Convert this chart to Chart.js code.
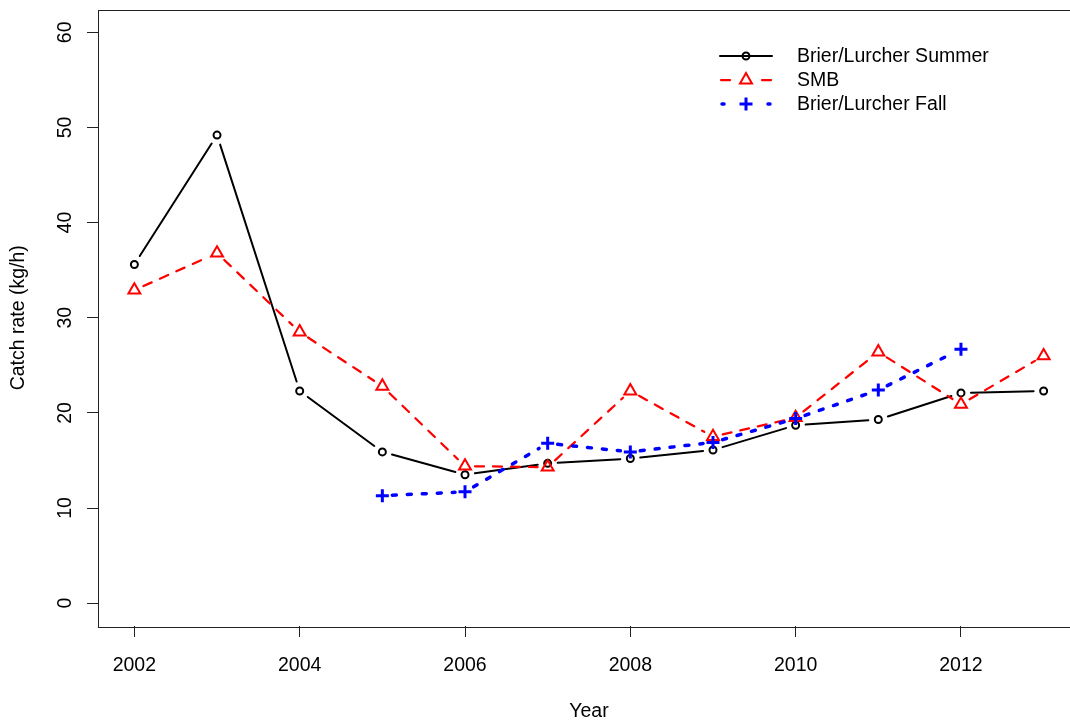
<!DOCTYPE html>
<html><head><meta charset="utf-8">
<script src="https://cdn.jsdelivr.net/npm/chart.js@4/dist/chart.umd.min.js"></script>
<style>html,body{margin:0;padding:0;overflow:hidden;background:#fff}canvas{display:block}</style>
</head><body>
<canvas id="c" width="1090" height="724"></canvas>
<script>
const years = [2002,2003,2004,2005,2006,2007,2008,2009,2010,2011,2012,2013];
const summer = [35.6,49.2,22.3,15.9,13.5,14.7,15.2,16.1,18.7,19.3,22.1,22.3];
const smb = [32.9,36.8,28.5,22.8,14.4,14.3,22.3,17.5,19.5,26.4,20.9,26.0];
const fall = [null,null,null,11.3,11.7,16.8,15.9,16.9,19.4,22.4,26.7,null];
const xTicks = [2002,2004,2006,2008,2010,2012];
const yTicks = [0,10,20,30,40,50,60];
const seriesNames = ['Brier/Lurcher Summer','SMB','Brier/Lurcher Fall'];

const FONT = 'Liberation Sans, Arial, sans-serif';
const toXY = arr => years.map((y,i)=>({x:y,y:arr[i]}));

const boxPlugin = {
  id:'box',
  beforeDatasetsDraw(chart){
    const {ctx, chartArea:a} = chart;
    ctx.save();
    ctx.strokeStyle = '#222'; ctx.lineWidth = 1;
    ctx.strokeRect(Math.round(a.left)+0.5, Math.round(a.top)+0.5, Math.round(a.right-a.left), Math.round(a.bottom-a.top));
    ctx.restore();
  }
};

const GAP = 10;
const gapLines = {
  id:'gapLines',
  beforeDatasetsDraw(chart){
    const ctx = chart.ctx, a = chart.chartArea;
    ctx.save();
    ctx.beginPath(); ctx.rect(a.left,a.top,a.right-a.left,a.bottom-a.top); ctx.clip();
    const idx = chart.data.datasets.map((d,i)=>i).reverse();
    idx.forEach(i=>{
      const ds = chart.data.datasets[i];
      const pts = chart.getDatasetMeta(i).data;
      ctx.strokeStyle = ds.lineColor; ctx.lineWidth = ds.lineW;
      ctx.setLineDash(ds.lineDash); ctx.lineCap = 'round';
      for (let k=0;k<pts.length-1;k++){
        if (ds.data[k].y==null || ds.data[k+1].y==null) continue;
        const p=pts[k], q=pts[k+1];
        const dx=q.x-p.x, dy=q.y-p.y, len=Math.hypot(dx,dy);
        if (len<=2*GAP) continue;
        const ux=dx/len, uy=dy/len;
        ctx.beginPath();
        ctx.moveTo(p.x+ux*GAP,p.y+uy*GAP);
        ctx.lineTo(q.x-ux*GAP,q.y-uy*GAP);
        ctx.stroke();
      }
    });
    ctx.restore();
  }
};

const legendPlugin = {
  id:'rlegend',
  afterDraw(chart){
    const ctx = chart.ctx;
    ctx.save();
    const rows = [56,80,104];
    const x0=720, x1=772, xc=746, tx=797;
    ctx.lineCap='round'; ctx.setLineDash([]);
    ctx.strokeStyle='#000'; ctx.lineWidth=2;
    ctx.beginPath(); ctx.moveTo(x0,rows[0]); ctx.lineTo(x1,rows[0]); ctx.stroke();
    ctx.beginPath(); ctx.arc(xc,rows[0],3.5,0,Math.PI*2); ctx.stroke();
    ctx.strokeStyle='#ff0000'; ctx.lineWidth=2.25;
    ctx.beginPath(); ctx.moveTo(x0+1,rows[1]); ctx.lineTo(x0+10,rows[1]); ctx.stroke();
    ctx.beginPath(); ctx.moveTo(x1-10,rows[1]); ctx.lineTo(x1-1,rows[1]); ctx.stroke();
    const r=6.9;
    ctx.lineWidth=2; ctx.lineJoin='miter';
    ctx.beginPath();
    ctx.moveTo(xc,rows[1]-r); ctx.lineTo(xc+r*0.866,rows[1]+r/2); ctx.lineTo(xc-r*0.866,rows[1]+r/2); ctx.closePath(); ctx.stroke();
    ctx.strokeStyle='#0000ff'; ctx.lineWidth=3.5;
    ctx.beginPath(); ctx.moveTo(x0+2,rows[2]); ctx.lineTo(x0+4,rows[2]); ctx.stroke();
    ctx.beginPath(); ctx.moveTo(x1-4,rows[2]); ctx.lineTo(x1-2,rows[2]); ctx.stroke();
    ctx.lineWidth=3; ctx.lineCap='butt';
    ctx.beginPath(); ctx.moveTo(xc-6.5,rows[2]); ctx.lineTo(xc+6.5,rows[2]); ctx.moveTo(xc,rows[2]-6.5); ctx.lineTo(xc,rows[2]+6.5); ctx.stroke();
    ctx.fillStyle='#000'; ctx.font='19.5px '+FONT; ctx.textBaseline='middle'; ctx.textAlign='left';
    seriesNames.forEach((n,i)=>ctx.fillText(n,tx,rows[i]+1));
    ctx.restore();
  }
};

new Chart(document.getElementById('c'), {
  type:'line',
  data:{datasets:[
    {label:seriesNames[2], data:toXY(fall), showLine:false, order:1,
     lineColor:'#0000ff', lineW:3.5, lineDash:[4,11],
     pointStyle:'cross', pointRadius:6.5, pointBorderWidth:3, pointBorderColor:'#0000ff', pointBackgroundColor:'rgba(0,0,0,0)'},
    {label:seriesNames[1], data:toXY(smb), showLine:false, order:2,
     lineColor:'#ff0000', lineW:2.25, lineDash:[9,9],
     pointStyle:'triangle', pointRadius:6.9, pointBorderWidth:2, pointBorderColor:'#ff0000', pointBackgroundColor:'rgba(0,0,0,0)'},
    {label:seriesNames[0], data:toXY(summer), showLine:false, order:3,
     lineColor:'#000000', lineW:2, lineDash:[],
     pointStyle:'circle', pointRadius:3.5, pointBorderWidth:2, pointBorderColor:'#000000', pointBackgroundColor:'rgba(0,0,0,0)'}
  ]},
  options:{
    responsive:false, animation:false, devicePixelRatio:1,
    layout:{padding:{top:8,right:10,left:0,bottom:0}},
    plugins:{legend:{display:false}, tooltip:{enabled:false}},
    scales:{
      x:{type:'linear', min:2001.56, max:2013.44,
         afterBuildTicks:s=>{s.ticks=xTicks.map(v=>({value:v}));},
         afterFit:s=>{s.height=98; s.paddingLeft=0; s.paddingRight=0;},
         grid:{display:true, drawOnChartArea:false, drawTicks:true, tickLength:11, color:'#222', lineWidth:1},
         border:{display:false},
         ticks:{color:'#000', font:{family:FONT,size:19.5}, padding:17, maxRotation:0, autoSkip:false,
                callback:v=>String(v)},
         title:{display:true, text:'Year', color:'#000', font:{family:FONT,size:19.5}, padding:{top:0,bottom:1}}},
      y:{type:'linear', min:-2.4, max:62.4,
         afterBuildTicks:s=>{s.ticks=yTicks.map(v=>({value:v}));},
         afterFit:s=>{s.width=98; s.paddingTop=0; s.paddingBottom=0;},
         grid:{display:true, drawOnChartArea:false, drawTicks:true, tickLength:11, color:'#222', lineWidth:1},
         border:{display:false},
         ticks:{color:'#000', font:{family:FONT,size:19.5}, padding:10.5, minRotation:90, maxRotation:90, crossAlign:'center', autoSkip:false,
                callback:v=>String(v)},
         title:{display:true, text:'Catch rate (kg/h)', color:'#000', font:{family:FONT,size:19.5}, padding:{top:7,bottom:0}}}
    }
  },
  plugins:[boxPlugin, gapLines, legendPlugin]
});
</script>
</body></html>
